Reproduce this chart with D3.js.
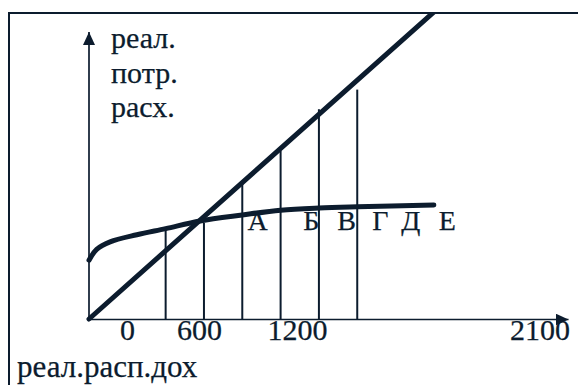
<!DOCTYPE html>
<html>
<head>
<meta charset="utf-8">
<script src="https://cdn.jsdelivr.net/npm/d3@7"></script>
<style>
  html, body { margin: 0; padding: 0; background: #fff; }
  text { font-family: "Liberation Serif", "Times New Roman", Times, "DejaVu Serif", serif; }
</style>
</head>
<body>
<svg id="chart" width="578" height="385"></svg>
<script>
// Real disposable income levels and the real consumption they support
const incomeGrid  = [0, 40, 110, 250, 400, 580, 800, 1000, 1200, 1400, 1800];
const consumption = [345, 408, 452, 494, 530, 575, 610, 638, 651, 658, 668];
// 45° reference: consumption equal to income
const bisectorIncome = [0, 1820];
// Vertical guides: income level and how high each guide rises
const guideIncome = [400, 600, 800, 1000, 1200, 1400];
const guideHeight = [533, 563, 800, 985, 1230, 1345];
// Segment letters and the income level each one marks
const segLetters = ["А", "Б", "В", "Г", "Д", "Е"];
const segIncome  = [880, 1160, 1345, 1520, 1680, 1870];
// Axis texts
const tickLabels = ["0", "600", "1200", "2100"];
const yTitle = ["реал.", "потр.", "расх."];
const xTitle = "реал.расп.дох";

const ink = "#0c1c2e";
const serif = "Liberation Serif, Times New Roman, DejaVu Serif, serif";
const svg = d3.select("#chart");
const W = 578, H = 385;

svg.append("rect").attr("width", W).attr("height", H).attr("fill", "#fff");

// frame: left and top edges of the text box
svg.append("path")
  .attr("d", `M9,${H} V13 H${W}`)
  .attr("fill", "none").attr("stroke", ink).attr("stroke-width", 2);

const x = d3.scaleLinear().domain([0, 2500]).range([89, 568]);
const y = d3.scaleLinear().domain([0, 1800]).range([319, 12]);

// shared look for every text item
function styleText(sel, size) {
  sel.attr("font-family", serif)
    .attr("font-size", size)
    .attr("fill", ink)
    .attr("stroke", ink)
    .attr("stroke-width", 0.25);
}

// arrowheads
const defs = svg.append("defs");
defs.append("marker")
  .attr("id", "arrow")
  .attr("markerUnits", "userSpaceOnUse")
  .attr("markerWidth", 14).attr("markerHeight", 12)
  .attr("refX", 13).attr("refY", 6)
  .attr("orient", "auto")
  .append("path").attr("d", "M0,0 L13,6 L0,12 Z").attr("fill", ink);

defs.append("clipPath").attr("id", "plotClip")
  .append("rect").attr("x", 10).attr("y", 14).attr("width", W).attr("height", H);

// y axis line
const yAxisTop = 1683;
svg.append("line")
  .attr("x1", x(0)).attr("y1", y(0))
  .attr("x2", x(0)).attr("y2", y(yAxisTop))
  .attr("stroke", ink).attr("stroke-width", 1.7)
  .attr("marker-end", "url(#arrow)");

// x axis with its text labels
const tickAnchor = [198, 574, 1086, 2351];
const xAxis = d3.axisBottom(x)
  .tickValues(tickAnchor)
  .tickFormat((d, i) => tickLabels[i])
  .tickSize(0).tickSizeOuter(0).tickPadding(0);
const gx = svg.append("g").attr("transform", `translate(0,${y(0)})`).call(xAxis);
gx.attr("font-family", serif).attr("font-size", 30);
gx.select(".domain").attr("stroke", ink).attr("stroke-width", 1.7)
  .attr("marker-end", "url(#arrow)");
gx.selectAll(".tick text").call(styleText, 30).attr("dy", "0.71em");

// vertical guides
svg.append("g").selectAll("line")
  .data(guideIncome)
  .join("line")
  .attr("x1", d => x(d)).attr("x2", d => x(d))
  .attr("y1", y(0)).attr("y2", (d, i) => y(guideHeight[i]))
  .attr("stroke", ink).attr("stroke-width", 2);

// 45° line
const plot = svg.append("g").attr("clip-path", "url(#plotClip)");
plot.append("path")
  .datum(bisectorIncome)
  .attr("d", d3.line().x(d => x(d)).y(d => y(d)))
  .attr("fill", "none").attr("stroke", ink)
  .attr("stroke-width", 5).attr("stroke-linecap", "round");

// consumption curve
svg.append("path")
  .datum(incomeGrid.map((v, i) => [v, consumption[i]]))
  .attr("d", d3.line().x(d => x(d[0])).y(d => y(d[1])).curve(d3.curveCatmullRom.alpha(0.5)))
  .attr("fill", "none").attr("stroke", ink)
  .attr("stroke-width", 5).attr("stroke-linecap", "round");

// segment letters
svg.append("g").selectAll("text")
  .data(segLetters)
  .join("text")
  .attr("x", (d, i) => x(segIncome[i]))
  .attr("y", 230)
  .attr("text-anchor", "middle")
  .call(styleText, 28)
  .text(d => d);

// y axis title, one word per line
svg.append("g").selectAll("text")
  .data(yTitle)
  .join("text")
  .attr("x", 111)
  .attr("y", (d, i) => 48 + i * 34.5)
  .call(styleText, 30)
  .text(d => d);

// x axis title
svg.append("text")
  .attr("x", 17).attr("y", 377)
  .call(styleText, 31)
  .text(xTitle);
</script>
</body>
</html>
